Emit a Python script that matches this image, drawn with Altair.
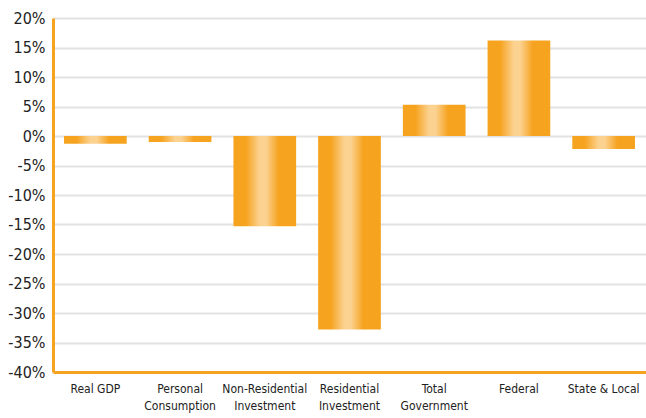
import altair as alt
import pandas as pd

# GDP component changes, in percent
categories = [
    "Real GDP",
    "Personal\nConsumption",
    "Non-Residential\nInvestment",
    "Residential\nInvestment",
    "Total\nGovernment",
    "Federal",
    "State & Local",
]
changes = [-1.3, -1.0, -15.3, -32.8, 5.3, 16.2, -2.2]

df = pd.DataFrame({"component": categories, "change": changes})

orange = "#F6A31F"
light = "#FCD291"

bar_fill = alt.Gradient(
    gradient="linear",
    x1=0, x2=1, y1=0, y2=0,
    stops=[
        alt.GradientStop(offset=0.0, color=orange),
        alt.GradientStop(offset=0.2, color=orange),
        alt.GradientStop(offset=0.42, color=light),
        alt.GradientStop(offset=0.52, color=light),
        alt.GradientStop(offset=0.72, color=orange),
        alt.GradientStop(offset=1.0, color=orange),
    ],
)

font = "'DejaVu Sans Condensed', 'Liberation Sans Narrow', 'Roboto Condensed', 'Arial Narrow', sans-serif"

chart = (
    alt.Chart(df)
    .mark_bar(color=bar_fill)
    .encode(
        x=alt.X(
            "component:N",
            sort=categories,
            title=None,
            scale=alt.Scale(paddingInner=0.26, paddingOuter=0.13),
            axis=alt.Axis(
                labelExpr="split(datum.label, '\\n')",
                labelAngle=0,
                labelFont=font,
                labelFontSize=12,
                labelColor="#222222",
                labelPadding=11,
                labelLineHeight=17,
                ticks=False,
                domainColor=orange,
                domainWidth=3,
                grid=False,
            ),
        ),
        y=alt.Y(
            "change:Q",
            title=None,
            scale=alt.Scale(domain=[-40, 20], nice=False),
            axis=alt.Axis(
                values=list(range(-40, 25, 5)),
                labelExpr="datum.value + '%'",
                labelFont=font,
                labelFontSize=16,
                labelColor="#222222",
                labelPadding=8,
                ticks=False,
                domainColor=orange,
                domainWidth=3,
                grid=True,
                gridColor="#e2e2e2",
                gridWidth=2,
            ),
        ),
    )
    .properties(
        width=593,
        height=354,
        autosize=alt.AutoSizeParams(type="none"),
        padding={"left": 53, "top": 18, "right": 0, "bottom": 46},
    )
    .configure_view(stroke=None)
    .configure(background="white")
)

chart.save("out.html", embed_options={"renderer": "svg", "actions": False})
